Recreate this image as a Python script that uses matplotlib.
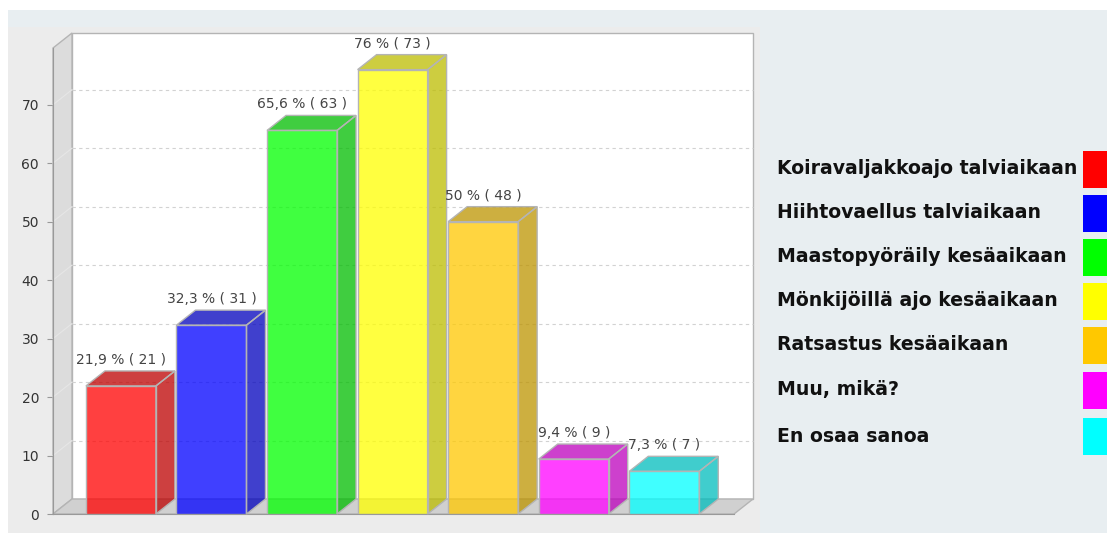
import matplotlib
matplotlib.use("Agg")
import matplotlib.pyplot as plt
from matplotlib.patches import Polygon, Rectangle
from matplotlib.colors import to_rgb

# Data
categories = ["Koiravaljakkoajo talviaikaan", "Hiihtovaellus talviaikaan",
              "Maastopyöräily kesäaikaan", "Mönkijöillä ajo kesäaikaan",
              "Ratsastus kesäaikaan", "Muu, mikä?", "En osaa sanoa"]
percents = [21.9, 32.3, 65.6, 76.0, 50.0, 9.4, 7.3]
counts = [21, 31, 63, 73, 48, 9, 7]
labels = ["21,9 %", "32,3 %", "65,6 %", "76 %", "50 %", "9,4 %", "7,3 %"]
colors = ["#ff0000", "#0000ff", "#00ff00", "#ffff00", "#ffc800", "#ff00ff", "#00ffff"]
yticks = [0, 10, 20, 30, 40, 50, 60, 70]

W, H = 1107, 533
fig = plt.figure(figsize=(W / 100, H / 100), dpi=100)
fig.patch.set_facecolor("white")

# page backgrounds
fig.patches.append(Rectangle((8 / W, 0), 1 - 8 / W, (H - 10) / H, transform=fig.transFigure,
                             facecolor="#e8eef1", edgecolor="none", zorder=-10))
fig.patches.append(Rectangle((8 / W, 0), (760 - 8) / W, (H - 27) / H, transform=fig.transFigure,
                             facecolor="#ececec", edgecolor="none", zorder=-9))

# axes = front plane of the 3D chart
x0, x1 = 53, 734
y0, y1 = 514, 48
ax = fig.add_axes([x0 / W, (H - y0) / H, (x1 - x0) / W, (y0 - y1) / H])
ax.patch.set_visible(False)
xmin, xmax = -0.75, 6.77
ymin, ymax = 0, 79.7
ax.set_xlim(xmin, xmax)
ax.set_ylim(ymin, ymax)

# depth offsets in data units (19 px right, 15 px up)
dx = 19 * (xmax - xmin) / (x1 - x0)
dy = 15 * (ymax - ymin) / (y0 - y1)

edge = "#b4b4b4"
# back wall
ax.add_patch(Polygon([(xmin + dx, dy), (xmax + dx, dy), (xmax + dx, ymax + dy), (xmin + dx, ymax + dy)],
                     closed=True, facecolor="white", edgecolor=edge, lw=1, clip_on=False, zorder=1))
# left wall
ax.add_patch(Polygon([(xmin, 0), (xmin + dx, dy), (xmin + dx, ymax + dy), (xmin, ymax)],
                     closed=True, facecolor="#dcdcdc", edgecolor=edge, lw=1, clip_on=False, zorder=1))
# floor
ax.add_patch(Polygon([(xmin, 0), (xmax, 0), (xmax + dx, dy), (xmin + dx, dy)],
                     closed=True, facecolor="#d0d0d0", edgecolor=edge, lw=1, clip_on=False, zorder=1))

# grid lines on back wall and left wall
for v in yticks[1:]:
    ax.plot([xmin + dx, xmax + dx], [v + dy, v + dy], color="#d2d2d2", lw=0.8,
            ls=(0, (3, 3)), clip_on=False, zorder=2)
    ax.plot([xmin, xmin + dx], [v, v + dy], color="#e6e6e6", lw=0.8, clip_on=False, zorder=2)

# 3D bars
w = 70 * (xmax - xmin) / (x1 - x0)
for i, (p, c) in enumerate(zip(percents, colors)):
    base = to_rgb(c)
    dark = tuple(ch * 0.74 for ch in base)
    l, r = i - w / 2, i + w / 2
    ax.add_patch(Polygon([(l, 0), (r, 0), (r, p), (l, p)], closed=True, facecolor=base,
                         alpha=0.75, edgecolor="none", zorder=3))
    ax.add_patch(Polygon([(r, 0), (r + dx, dy), (r + dx, p + dy), (r, p)], closed=True,
                         facecolor=dark, alpha=0.75, edgecolor="none", zorder=3))
    ax.add_patch(Polygon([(l, p), (r, p), (r + dx, p + dy), (l + dx, p + dy)], closed=True,
                         facecolor=dark, alpha=0.75, edgecolor="none", zorder=3))
    # outlines
    ax.add_patch(Polygon([(l, 0), (r, 0), (r, p), (l, p)], closed=True, fill=False,
                         edgecolor=edge, lw=1, zorder=4))
    ax.add_patch(Polygon([(r, 0), (r + dx, dy), (r + dx, p + dy), (r, p)], closed=True, fill=False,
                         edgecolor=edge, lw=1, zorder=4, clip_on=False))
    ax.add_patch(Polygon([(l, p), (r, p), (r + dx, p + dy), (l + dx, p + dy)], closed=True, fill=False,
                         edgecolor=edge, lw=1, zorder=4, clip_on=False))
    ax.text(i, p + dy + 0.7, f"{labels[i]} ( {counts[i]} )", ha="center", va="bottom",
            fontsize=10, color="#444444", zorder=5, clip_on=False)

# axes styling
for s in ["top", "right"]:
    ax.spines[s].set_visible(False)
ax.spines["left"].set_color("#999999")
ax.spines["bottom"].set_color("#999999")
ax.set_xticks([])
ax.set_yticks(yticks)
ax.tick_params(axis="y", colors="#999999", labelcolor="#333333", labelsize=10, length=4, pad=6)

# legend on the right
ys = [169, 213, 257, 301, 345, 390, 436]
for cat, c, yy in zip(categories, colors, ys):
    fig.text(777 / W, (H - yy) / H, cat, ha="left", va="center", fontsize=13.6,
             fontweight="bold", color="#111111")
    fig.patches.append(Rectangle((1083 / W, (H - yy - 18.5) / H), 30 / W, 37 / H,
                                 transform=fig.transFigure, facecolor=c, edgecolor="none"))

fig.savefig("out.png", dpi=100)
